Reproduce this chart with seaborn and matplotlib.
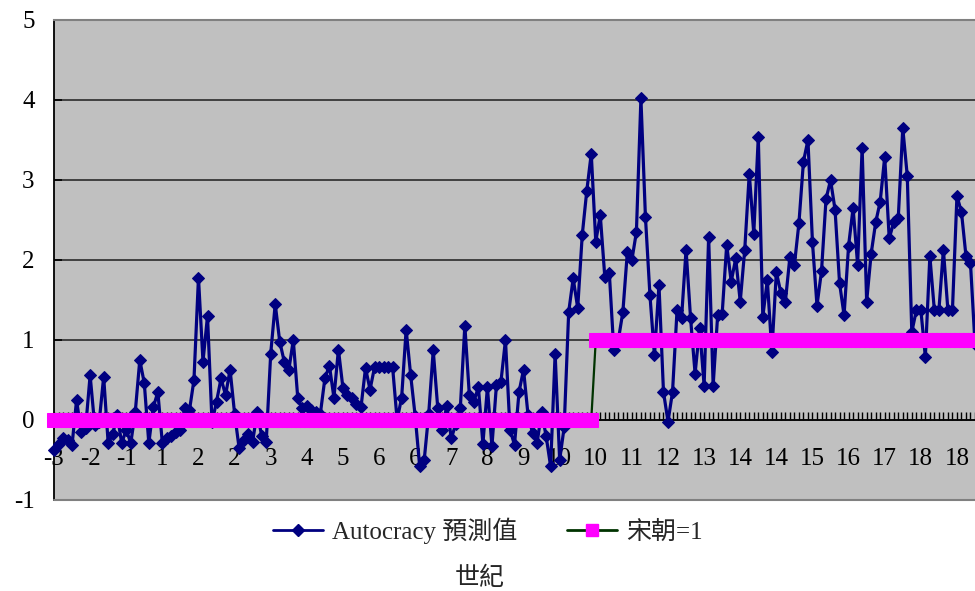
import matplotlib
matplotlib.use("Agg")
import matplotlib.pyplot as plt
from matplotlib.lines import Line2D
import numpy as np
import pandas as pd
import seaborn as sns

# Predicted autocracy score, one value per period, ordered in time
autocracy = [
    -0.38, -0.30, -0.22, -0.25, -0.31, 0.25, -0.15, -0.10, 0.56, -0.06,
    -0.03, 0.54, -0.29, -0.18, 0.06, -0.29, -0.12, -0.29, 0.10, 0.75,
    0.46, -0.29, 0.16, 0.35, -0.29, -0.22, -0.20, -0.15, -0.12, 0.15,
    0.12, 0.50, 1.78, 0.73, 1.30, -0.03, 0.23, 0.52, 0.31, 0.63,
    0.08, -0.35, -0.25, -0.18, -0.27, 0.10, -0.20, -0.28, 0.83, 1.45,
    0.98, 0.73, 0.62, 1.00, 0.27, 0.15, 0.18, 0.12, 0.10, 0.08,
    0.52, 0.68, 0.28, 0.88, 0.40, 0.31, 0.27, 0.20, 0.16, 0.65,
    0.38, 0.66, 0.66, 0.66, 0.66, 0.66, 0.00, 0.28, 1.13, 0.56,
    0.05, -0.58, -0.50, 0.08, 0.87, 0.15, -0.12, 0.18, -0.23, -0.05,
    0.15, 1.18, 0.31, 0.23, 0.41, -0.30, 0.41, -0.33, 0.44, 0.48,
    1.00, -0.12, -0.31, 0.35, 0.63, 0.06, -0.16, -0.29, 0.10, -0.20,
    -0.58, 0.83, -0.50, -0.09, 1.35, 1.77, 1.40, 2.31, 2.86, 3.33,
    2.23, 2.56, 1.79, 1.84, 0.87, 1.00, 1.35, 2.10, 2.00, 2.35,
    4.02, 2.54, 1.56, 0.81, 1.69, 0.35, -0.02, 0.35, 1.37, 1.27,
    2.13, 1.27, 0.58, 1.15, 0.43, 2.29, 0.43, 1.31, 1.33, 2.19,
    1.73, 2.02, 1.48, 2.13, 3.08, 2.33, 3.54, 1.29, 1.75, 0.85,
    1.85, 1.59, 1.48, 2.04, 1.94, 2.46, 3.23, 3.50, 2.22, 1.43,
    1.86, 2.76, 3.00, 2.63, 1.71, 1.31, 2.18, 2.65, 1.94, 3.40,
    1.48, 2.08, 2.47, 2.73, 3.29, 2.27, 2.47, 2.52, 3.65, 3.05,
    1.10, 1.37, 1.38, 0.79, 2.05, 1.37, 1.37, 2.13, 1.37, 1.37,
    2.80, 2.60, 2.05, 1.96, 0.95,
]

# Song dynasty dummy: 0 before the Song, 1 from the Song onward
song_start = 120
song = [0] * song_start + [1] * (len(autocracy) - song_start)

# Century labels shown on every 8th period
century_labels = ["-3", "-2", "-1", "1", "2", "2", "3", "4", "5", "6", "6", "7", "8",
                  "9", "10", "10", "11", "12", "13", "14", "14", "15", "16", "17",
                  "18", "18"]
label_step = 8

series_names = ["Autocracy 預測值", "宋朝=1"]
y_ticks = [-1, 0, 1, 2, 3, 4, 5]

df = pd.DataFrame({"period": np.arange(len(autocracy)),
                   "autocracy": autocracy,
                   "song": song})

sns.set_theme(style="white")
plt.rcParams["font.family"] = ["Liberation Serif", "Noto Sans CJK TC"]
plt.rcParams["axes.unicode_minus"] = False

fig = plt.figure(figsize=(9.75, 5.91), dpi=100)
ax = fig.add_axes([54 / 975, 91 / 591, 1 - 54 / 975, 480 / 591])
ax.set_facecolor("#C0C0C0")

navy = "#000080"
pink = "#FF00FF"
dgreen = "#003300"

sns.lineplot(data=df, x="period", y="autocracy", ax=ax, color=navy, lw=2.3,
             marker="D", markersize=6.6, markeredgecolor=navy,
             markerfacecolor=navy, zorder=4, clip_on=False, legend=False)
sns.lineplot(data=df, x="period", y="song", ax=ax, color=dgreen, lw=1.6,
             marker="s", markersize=10, markeredgecolor=pink,
             markerfacecolor=pink, zorder=5, clip_on=False, legend=False)

xmax = (975 - 54) / 4.52
ax.set_xlim(0, xmax)
ax.set_ylim(-1, 5)

# Horizontal gridlines
ax.set_yticks(y_ticks)
ax.set_yticklabels([str(v) for v in y_ticks], fontsize=18)
ax.yaxis.grid(True, color="#2a2a2a", lw=1.2)
ax.set_axisbelow(True)

# Category axis crossing at zero
ax.spines["bottom"].set_position(("data", 0))
ax.spines["bottom"].set_color("black")
ax.spines["bottom"].set_linewidth(1.2)
ax.spines["bottom"].set_zorder(3)
ax.spines["left"].set_color("black")
ax.spines["left"].set_linewidth(1.3)
ax.spines["top"].set_color("#808080")
ax.spines["top"].set_linewidth(1.5)
ax.spines["right"].set_visible(False)

# Bottom border of the plot area
ax.axhline(-1, color="#808080", lw=1.5, clip_on=False, zorder=3)

major = np.arange(0, len(century_labels) * label_step, label_step)
ax.set_xticks(major)
ax.set_xticklabels(century_labels, fontsize=18)
ax.set_xticks(np.arange(len(autocracy)), minor=True)
ax.tick_params(axis="x", which="both", direction="in", length=5.5, width=1,
               color="black", pad=20, bottom=True)
ax.tick_params(axis="y", which="major", direction="in", length=6, width=1.2,
               color="black", pad=14, left=True)
for lab in ax.get_xticklabels() + ax.get_yticklabels():
    lab.set_color("black")
ax.set_xlabel("")
ax.set_ylabel("")

handles = [
    Line2D([], [], color=navy, lw=2, marker="D", markersize=6,
           markerfacecolor=navy, markeredgecolor=navy),
    Line2D([], [], color=dgreen, lw=2, marker="s", markersize=9,
           markerfacecolor=pink, markeredgecolor=pink),
]
fig.legend(handles, series_names, loc="center",
           bbox_to_anchor=(488 / 975, 1 - 531 / 591), ncol=2, frameon=False,
           fontsize=18, handlelength=2.0, handletextpad=0.35, columnspacing=2.0)

fig.text(480 / 975, 1 - 578 / 591, "世紀", ha="center", va="center", fontsize=18)

fig.savefig("out.png", dpi=100)
